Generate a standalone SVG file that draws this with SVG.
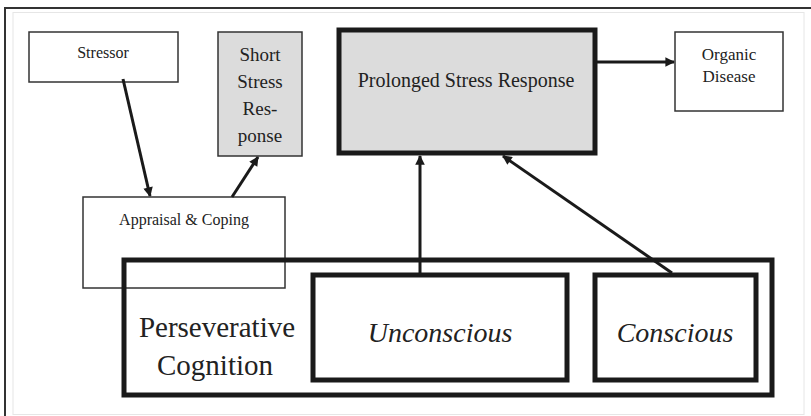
<svg xmlns="http://www.w3.org/2000/svg" width="811" height="416" viewBox="0 0 811 416" font-family="Liberation Serif, serif">
<style>
text{font-family:'Liberation Serif',serif;fill:#222;text-anchor:middle}
.thin{fill:#fff;stroke:#333;stroke-width:1.5}
.thick{fill:#fff;stroke:#1a1a1a;stroke-width:5}
.gray{fill:#dcdcdc}
.con{stroke:#1a1a1a;stroke-width:3;fill:none;marker-end:url(#ah)}
</style>
<defs>
<marker id="ah" viewBox="0 0 10 10" refX="9" refY="5" markerWidth="3.6" markerHeight="3.2" orient="auto" markerUnits="strokeWidth">
<path d="M0,0 L10,5 L0,10 Z" fill="#1a1a1a"/>
</marker>
</defs>
<rect width="811" height="416" fill="#fff"/>
<path d="M5,416 V8 H811" fill="none" stroke="#333" stroke-width="2"/>
<rect x="13" y="12.5" width="791" height="402" fill="none" stroke="#e6e6e6" stroke-width="1"/>
<g id="stressor"><rect class="thin" x="29" y="32" width="149" height="50"/><text x="103" y="58" font-size="16">Stressor</text></g>
<g id="short"><rect class="thin gray" x="218" y="32" width="84" height="124"/>
<text x="260" y="61" font-size="19">Short</text><text x="260" y="88" font-size="19">Stress</text><text x="260" y="115" font-size="19">Res-</text><text x="260" y="142" font-size="19">ponse</text></g>
<g id="appraisal"><rect x="83" y="197" width="202" height="91" fill="none" stroke="#333" stroke-width="1.5"/><text x="184" y="225" font-size="16">Appraisal &amp; Coping</text></g>
<g id="perseverative"><rect x="124" y="260" width="648" height="135" fill="none" stroke="#1a1a1a" stroke-width="5"/>
<text x="217" y="337" font-size="29">Perseverative</text><text x="215" y="375" font-size="29">Cognition</text></g>
<g id="unconscious"><rect class="thick" x="313" y="275" width="254" height="105"/><text x="440" y="342" font-size="28" font-style="italic">Unconscious</text></g>
<g id="conscious"><rect class="thick" x="595" y="275" width="161" height="105"/><text x="675" y="342" font-size="28" font-style="italic">Conscious</text></g>
<g id="prolonged"><rect class="thick gray" x="339" y="30" width="256" height="123"/><text x="466" y="87" font-size="20">Prolonged Stress Response</text></g>
<g id="organic"><rect class="thin" x="675" y="32" width="108" height="79"/><text x="729" y="60" font-size="17">Organic</text><text x="729" y="82" font-size="17">Disease</text></g>
<g id="connectors">
<line class="con" x1="123" y1="79" x2="150" y2="196"/>
<line class="con" x1="232" y1="197" x2="258" y2="157"/>
<line class="con" x1="597" y1="62" x2="674" y2="62"/>
<line class="con" x1="420" y1="273" x2="420" y2="156"/>
<line class="con" x1="672" y1="273" x2="503" y2="156"/>
</g>
</svg>
